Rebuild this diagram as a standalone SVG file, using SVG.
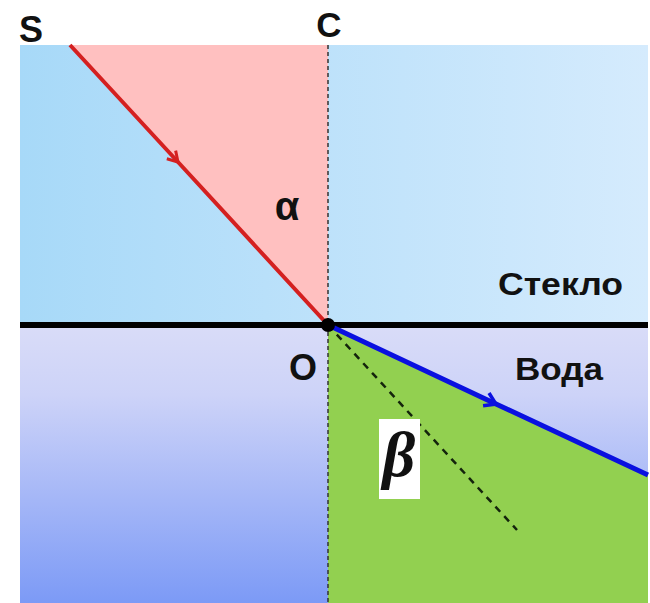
<svg xmlns="http://www.w3.org/2000/svg" width="650" height="603" viewBox="0 0 650 603">
<style>
.lbl{font-family:"Liberation Sans",Arial,sans-serif;font-weight:bold;fill:#111}
</style>
<defs>
<linearGradient id="gTop" x1="0" y1="0" x2="1" y2="0">
<stop offset="0" stop-color="#a7d9f8"/><stop offset="1" stop-color="#d5ebfd"/>
</linearGradient>
<linearGradient id="gBot" x1="0" y1="0" x2="0" y2="1">
<stop offset="0" stop-color="#d9dcf8"/><stop offset="0.25" stop-color="#cdd3f8"/><stop offset="1" stop-color="#7c9af6"/>
</linearGradient>
<marker id="chevR" markerUnits="userSpaceOnUse" markerWidth="20" markerHeight="20" refX="0" refY="0" viewBox="-10 -10 20 20" orient="auto" overflow="visible">
<path d="M-10,-6 L0,0 L-10,6" fill="none" stroke="#d42020" stroke-width="3"/>
</marker>
<marker id="chevB" markerUnits="userSpaceOnUse" markerWidth="20" markerHeight="20" refX="0" refY="0" viewBox="-10 -10 20 20" orient="auto" overflow="visible">
<path d="M-11,-7 L0,0 L-11,7" fill="none" stroke="#0a10e0" stroke-width="3.5"/>
</marker>
</defs>
<rect x="0" y="0" width="650" height="603" fill="#fff"/>
<g id="glass"><rect x="20" y="45" width="628" height="280" fill="url(#gTop)"/></g>
<g id="water"><rect x="20" y="325" width="628" height="278" fill="url(#gBot)"/></g>
<g id="alpha-region"><polygon points="70,45 328,45 328,325" fill="#ffc0c0"/></g>
<g id="beta-region"><polygon points="328,325 648,475 648,603 328,603" fill="#92d050"/></g>
<g id="connectors">
<line x1="328" y1="45" x2="328" y2="603" stroke="#333" stroke-width="1.5" stroke-dasharray="4 3"/>
<line x1="328" y1="325" x2="517" y2="530" stroke="#14240c" stroke-width="2.5" stroke-dasharray="7 6"/>
<line x1="20" y1="325" x2="648" y2="325" stroke="#000" stroke-width="6"/>
<path d="M70,45 L178,162 L328,325" fill="none" stroke="#d42020" stroke-width="4" marker-mid="url(#chevR)"/>
<path d="M328,325 L496,404 L648,475" fill="none" stroke="#0a10e0" stroke-width="5" marker-mid="url(#chevB)"/>
</g>
<g id="O"><circle cx="328" cy="325" r="7" fill="#000"/>
<text class="lbl" x="303" y="380" font-size="36" text-anchor="middle">O</text></g>
<g id="S"><text class="lbl" x="31" y="42" font-size="36" text-anchor="middle">S</text></g>
<g id="C"><text class="lbl" x="329" y="37" font-size="35" text-anchor="middle">C</text></g>
<g id="alpha"><text class="lbl" x="287" y="220" font-size="40" text-anchor="middle">α</text></g>
<g id="steklo"><text class="lbl" x="498" y="295" font-size="32" textLength="125" lengthAdjust="spacingAndGlyphs">Стекло</text></g>
<g id="voda"><text class="lbl" x="515" y="380" font-size="32" textLength="88" lengthAdjust="spacingAndGlyphs">Вода</text></g>
<g id="beta"><rect x="379" y="419" width="41" height="80" fill="#fff"/>
<text x="399" y="476" font-size="64" font-family="'Liberation Serif','Times New Roman',serif" font-style="italic" font-weight="bold" fill="#111" text-anchor="middle">β</text></g>
</svg>
